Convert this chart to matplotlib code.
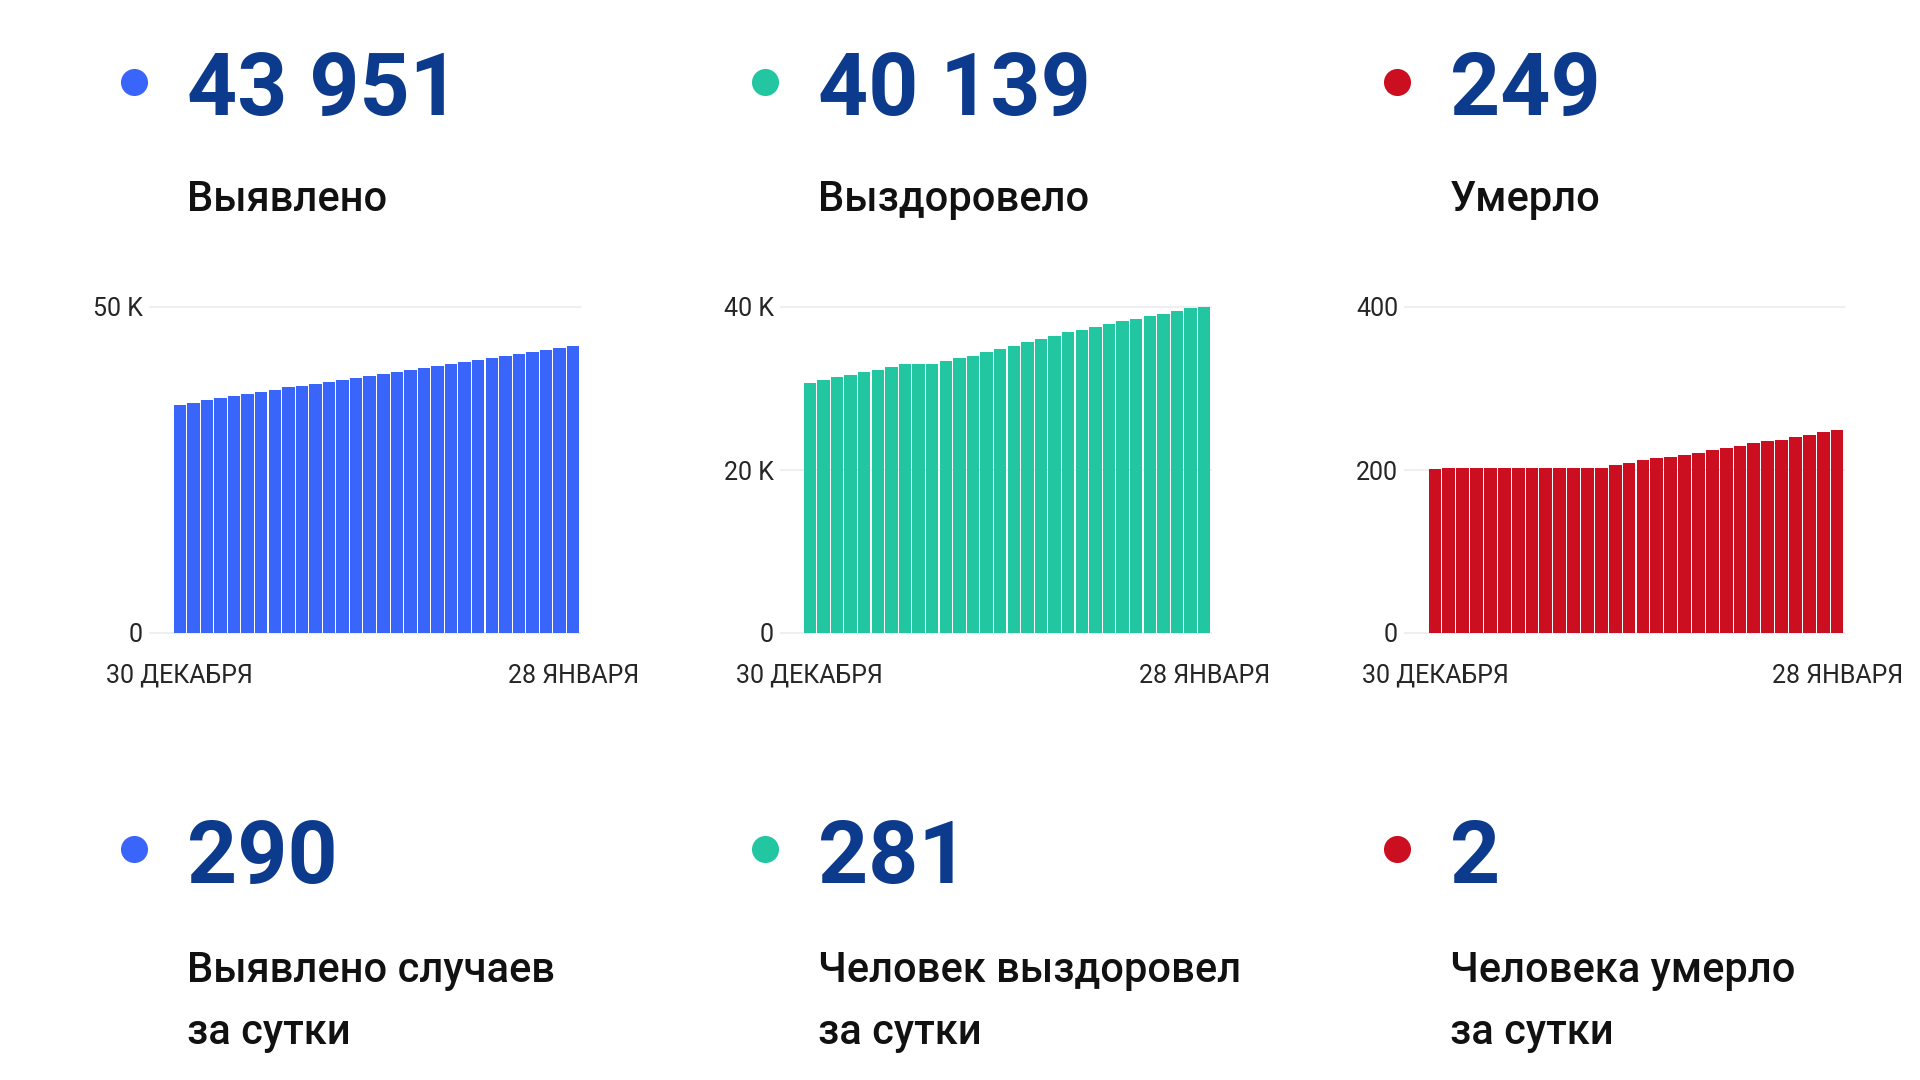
import matplotlib
matplotlib.use("Agg")
import matplotlib.pyplot as plt

plt.rcParams['font.family'] = ['Roboto', 'DejaVu Sans']

# ---- data ----
dates = list(range(30))  # 30 Dec .. 28 Jan
x_tick_labels = ["30 ДЕКАБРЯ", "28 ЯНВАРЯ"]

detected = [34990, 35300, 35660, 35970, 36330, 36640, 37000, 37310, 37670, 37925,
            38235, 38545, 38850, 39110, 39470, 39780, 40040, 40350, 40655, 40965,
            41275, 41580, 41890, 42200, 42510, 42765, 43075, 43385, 43661, 43951]
recovered = [30735, 31067, 31440, 31647, 31978, 32309, 32681, 32971, 33055, 33055,
             33386, 33758, 34048, 34463, 34836, 35251, 35705, 36079, 36410, 36908,
             37239, 37570, 37860, 38233, 38564, 38855, 39186, 39517, 39858, 40139]
died = [201, 202, 203, 203, 203, 203, 203, 203, 203, 203,
        203, 203, 203, 206, 209, 212, 215, 216, 218, 221,
        224, 227, 230, 233, 235, 237, 240, 243, 247, 249]

totals = ["43 951", "40 139", "249"]
total_labels = ["Выявлено", "Выздоровело", "Умерло"]
daily = ["290", "281", "2"]
daily_labels = [["Выявлено случаев", "за сутки"],
                ["Человек выздоровел", "за сутки"],
                ["Человека умерло", "за сутки"]]

y_ticks = [[0, 50000], [0, 20000, 40000], [0, 200, 400]]
y_tick_labels = [["0", "50 K"], ["0", "20 K", "40 K"], ["0", "200", "400"]]
y_max = [50000, 40000, 400]

colors = ["#3a65fb", "#22c6a0", "#cc0f20"]
navy = "#0c3a8d"

W, H = 1920, 1080
fig = plt.figure(figsize=(19.2, 10.8), dpi=100)
fig.patch.set_facecolor("white")

# chart geometry in pixels: (axes left, bars left, bars right)
geo = [(150, 173, 580), (781, 803, 1211), (1405, 1428, 1844)]
y0_px, ytop_px = 633, 307
series = [detected, recovered, died]

for i, (axl, bl, br) in enumerate(geo):
    ax = fig.add_axes([axl / W, 1 - y0_px / H, (br - axl) / W, (y0_px - ytop_px) / H])
    n = len(series[i])
    unit = (br - bl) / n
    pad_units = (bl - axl) / unit
    ax.bar(dates, series[i], width=0.92, color=colors[i], linewidth=0, zorder=3)
    ax.set_xlim(-0.5 - pad_units, n - 0.5)
    ax.set_ylim(0, y_max[i])
    ax.set_yticks(y_ticks[i])
    ax.set_yticklabels(y_tick_labels[i])
    ax.set_xticks([dates[0], dates[-1]])
    ax.set_xticklabels(x_tick_labels)
    for s in ax.spines.values():
        s.set_visible(False)
    ax.tick_params(axis='both', length=0, labelsize=18, colors="#262626")
    ax.tick_params(axis='x', pad=22)
    ax.tick_params(axis='y', pad=5)
    ax.grid(axis='y', color="#ececec", linewidth=1.2, zorder=0)
    ax.set_axisbelow(True)
    ax.set_facecolor("none")
    for g in ax.get_ygridlines():
        g.set_clip_on(False)

# overlay for text and dots
ov = fig.add_axes([0, 0, 1, 1])
ov.set_xlim(0, W)
ov.set_ylim(H, 0)
ov.axis('off')
ov.set_facecolor("none")

dot_x = [134, 765, 1397]
num_x = [187, 818, 1450]

for i in range(3):
    # top block
    ov.scatter([dot_x[i]], [82], s=380, color=colors[i], linewidths=0)
    ov.text(num_x[i], 115, totals[i], fontsize=63, fontweight='bold', color=navy,
            ha='left', va='baseline')
    ov.text(num_x[i], 211, total_labels[i], fontsize=30, fontweight='medium',
            color="#111111", ha='left', va='baseline')
    # bottom block
    ov.scatter([dot_x[i]], [849], s=380, color=colors[i], linewidths=0)
    ov.text(num_x[i], 883, daily[i], fontsize=63, fontweight='bold', color=navy,
            ha='left', va='baseline')
    ov.text(num_x[i], 982, daily_labels[i][0], fontsize=30, fontweight='medium',
            color="#111111", ha='left', va='baseline')
    ov.text(num_x[i], 1044, daily_labels[i][1], fontsize=30, fontweight='medium',
            color="#111111", ha='left', va='baseline')

fig.savefig("out.png", dpi=100, facecolor="white")
